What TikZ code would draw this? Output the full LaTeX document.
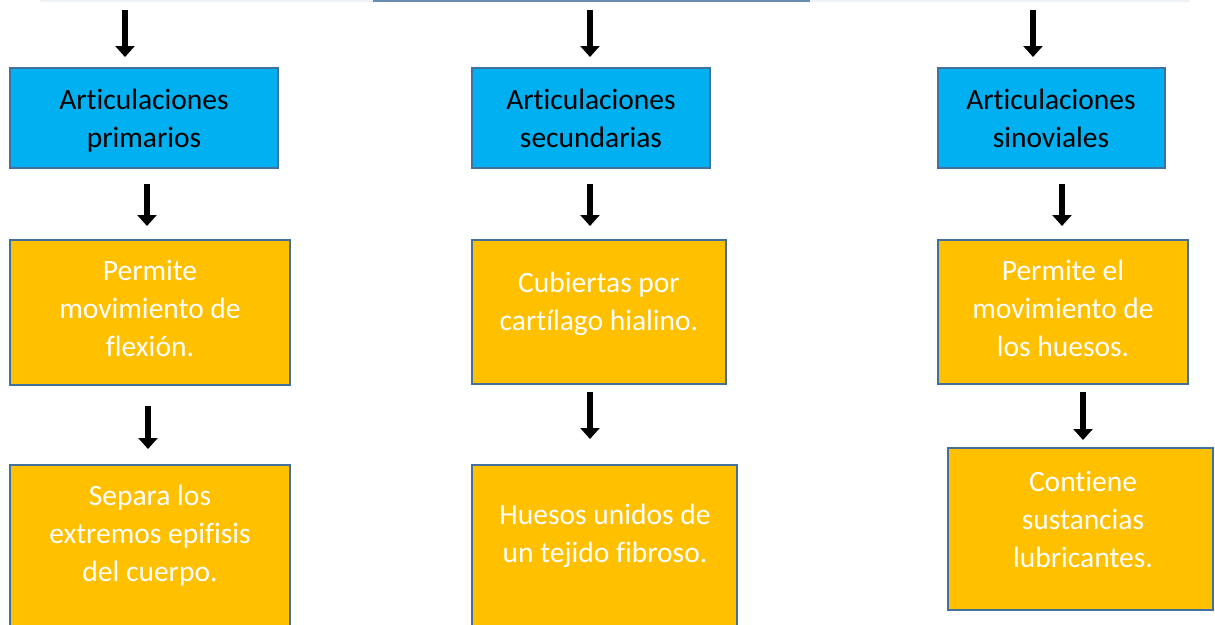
\documentclass[tikz,border=0pt]{standalone}
\usepackage{fontspec}
\setmainfont[Ligatures=NoCommon]{Carlito}
\usetikzlibrary{arrows.meta,calc}
\definecolor{boxblue}{HTML}{00B0F0}
\definecolor{boxorange}{HTML}{FFC000}
\definecolor{edge}{HTML}{41719C}
\definecolor{faint}{HTML}{EEF2F7}
\tikzset{
  bluebox/.style={draw=edge,line width=2pt,fill=boxblue},
  orangebox/.style={draw=edge,line width=2pt,fill=boxorange},
  bluetxt/.style={align=center,font=\fontsize{29.5}{38}\selectfont,text=black,inner sep=0pt},
  orangetxt/.style={align=center,font=\fontsize{29.5}{38}\selectfont,text=white,inner sep=0pt},
  bigarrow/.style={line width=6pt,-{Triangle[width=19pt,length=11pt]},black},
}
\begin{document}
\begin{tikzpicture}[x=1pt,y=-1pt]
\useasboundingbox (0,0) rectangle (1215,624);
% top remnants
\draw[faint,line width=2pt] (40,1) -- (1190,1);
\draw[edge!80,line width=2.5pt] (373,1) -- (810,1);
% row 1
\draw[bluebox] (10,68) rectangle (278,168);
\draw[bluebox] (472,68) rectangle (710,168);
\draw[bluebox] (938,68) rectangle (1165,168);
\node[bluetxt] (t1) at (144,121) {Articulaciones\\primarios};
\node[bluetxt] (t2) at (591,118) {Articulaciones\\secundarias};
\node[bluetxt] (t3) at (1051,118) {Articulaciones\\sinoviales};
% row 2
\draw[orangebox] (10,240) rectangle (290,385);
\draw[orangebox] (472,240) rectangle (726,384);
\draw[orangebox] (938,240) rectangle (1188,384);
\node[orangetxt] (p1) at (150,308) {Permite\\movimiento de\\flexión.};
\node[orangetxt] (p2) at (599,304) {Cubiertas por\\cartílago hialino.};
\node[orangetxt] (p3) at (1063,308) {Permite el\\movimiento de\\los huesos.};
% row 3
\draw[orangebox] (10,465) rectangle (290,640);
\draw[orangebox] (472,465) rectangle (737,640);
\draw[orangebox] (948,448) rectangle (1213,610);
\node[orangetxt] (s1) at (150,536) {Separa los\\extremos epifisis\\del cuerpo.};
\node[orangetxt] (s2) at (605,536) {Huesos unidos de\\un tejido fibroso.};
\node[orangetxt] (s3) at (1083,519) {Contiene\\sustancias\\lubricantes.};
% arrows
\coordinate (a1) at (125,10);
\coordinate (a2) at (590,10);
\coordinate (a3) at (1033,10);
\coordinate (e1) at (125,57);
\coordinate (e2) at (590,57);
\coordinate (e3) at (1033,57);
\draw[bigarrow] (a1) -- (e1);
\draw[bigarrow] (a2) -- (e2);
\draw[bigarrow] (a3) -- (e3);
\coordinate (c1) at (147,184); \coordinate (d1) at (147,226);
\coordinate (c2) at (590,184); \coordinate (d2) at (590,226);
\coordinate (c3) at (1062,184); \coordinate (d3) at (1062,226);
\draw[bigarrow] (c1) -- (d1);
\draw[bigarrow] (c2) -- (d2);
\draw[bigarrow] (c3) -- (d3);
\coordinate (f1) at (148,406); \coordinate (g1) at (148,449);
\coordinate (f2) at (590,392); \coordinate (g2) at (590,439);
\coordinate (f3) at (1083,392); \coordinate (g3) at (1083,440);
\draw[bigarrow] (f1) -- (g1);
\draw[bigarrow] (f2) -- (g2);
\draw[bigarrow] (f3) -- (g3);
\end{tikzpicture}
\end{document}
